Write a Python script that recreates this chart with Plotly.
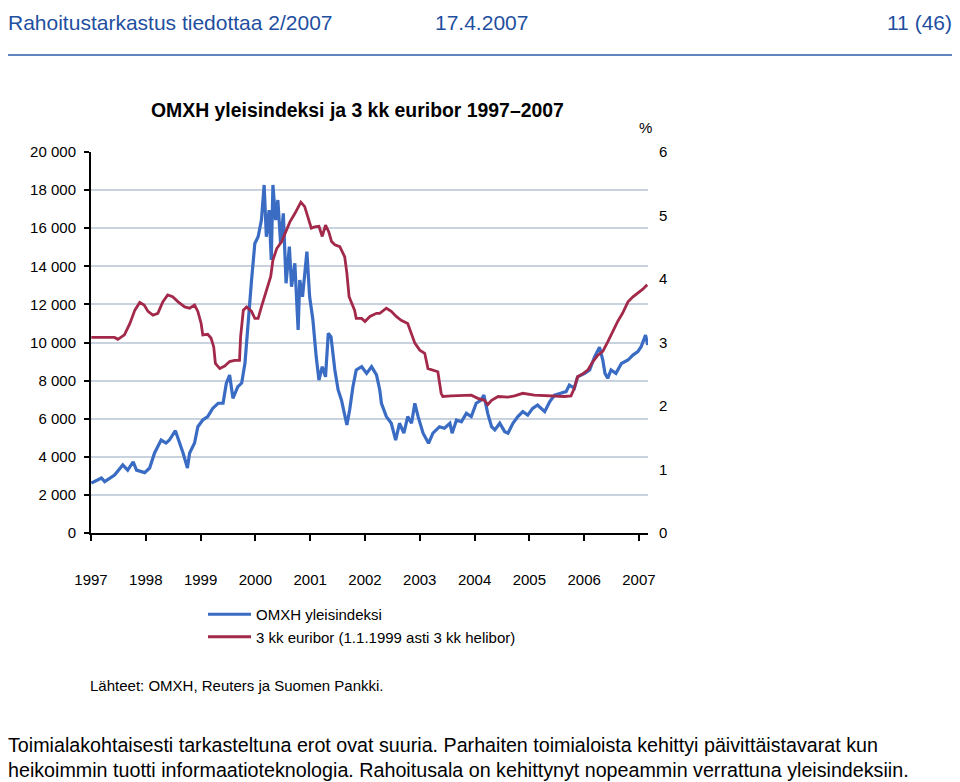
import plotly.graph_objects as go

# ---------------- data ----------------
omxh_t = [1997.005, 1997.19, 1997.25, 1997.43, 1997.58, 1997.67, 1997.77, 1997.83, 1997.98,
          1998.07, 1998.16, 1998.28, 1998.37, 1998.43, 1998.54, 1998.60, 1998.68, 1998.76,
          1998.80, 1998.89, 1998.95, 1999.04, 1999.13, 1999.22, 1999.32, 1999.41, 1999.47,
          1999.53, 1999.59, 1999.68, 1999.75, 1999.81, 1999.87, 1999.93, 1999.99, 2000.05,
          2000.11, 2000.16, 2000.20, 2000.25, 2000.29, 2000.32, 2000.37, 2000.41, 2000.46,
          2000.51, 2000.56, 2000.62, 2000.66, 2000.72, 2000.78, 2000.81, 2000.86, 2000.90,
          2000.94, 2000.99, 2001.05, 2001.11, 2001.16, 2001.22, 2001.28, 2001.33, 2001.38,
          2001.45, 2001.51, 2001.57, 2001.63, 2001.67, 2001.72, 2001.78, 2001.84, 2001.94,
          2002.03, 2002.12, 2002.21, 2002.27, 2002.30, 2002.39, 2002.48, 2002.56, 2002.63,
          2002.71, 2002.78, 2002.85, 2002.91, 2002.97, 2003.06, 2003.16, 2003.24, 2003.36,
          2003.45, 2003.55, 2003.59, 2003.67, 2003.76, 2003.85, 2003.94, 2004.03, 2004.12,
          2004.17, 2004.24, 2004.31, 2004.37, 2004.46, 2004.55, 2004.61, 2004.70, 2004.79,
          2004.88, 2004.97, 2005.06, 2005.15, 2005.28, 2005.37, 2005.46, 2005.58, 2005.67,
          2005.73, 2005.82, 2005.88, 2006.01, 2006.10, 2006.19, 2006.28, 2006.34, 2006.38,
          2006.43, 2006.49, 2006.58, 2006.68, 2006.80, 2006.89, 2006.98, 2007.04, 2007.12,
          2007.16]
omxh_v = [2620, 2890, 2700, 3040, 3570, 3300, 3740, 3300, 3170,
          3410, 4200, 4880, 4720, 4880, 5370, 4880, 4200, 3410,
          4200, 4720, 5580, 5930, 6110, 6540, 6810, 6810, 7860,
          8290, 7070, 7680, 7870, 8920, 11350, 13280, 15200, 15550,
          16430, 18270, 15550, 16950, 14330, 18270, 16430, 17480, 15200,
          16780, 13110, 15030, 12930, 14160, 10660, 13280, 12400, 13630,
          14770, 12400, 11180, 9250, 8030, 8730, 8200, 10480, 10300,
          8560, 7510, 6980, 6280, 5670, 6460, 7680, 8560, 8730,
          8380, 8730, 8300, 7510, 6810, 6110, 5760, 4880, 5760,
          5240, 6110, 5760, 6810, 6110, 5240, 4710, 5240, 5580,
          5500, 5760, 5240, 5930, 5840, 6280, 6110, 6810, 6980,
          7240, 6280, 5580, 5410, 5760, 5320, 5240, 5760, 6110,
          6370, 6190, 6540, 6720, 6370, 6890, 7240, 7330, 7420,
          7770, 7600, 8200, 8380, 8560, 9250, 9750, 9080, 8380,
          8120, 8560, 8380, 8900, 9080, 9340, 9520, 9780, 10390,
          9870]

euribor_t = [1997.005, 1997.43, 1997.49, 1997.61, 1997.71, 1997.80, 1997.89, 1997.97,
             1998.04, 1998.13, 1998.22, 1998.31, 1998.40, 1998.49, 1998.59, 1998.71,
             1998.80, 1998.89, 1998.95, 1999.01, 1999.04, 1999.13, 1999.19, 1999.24,
             1999.27, 1999.35, 1999.44, 1999.53, 1999.62, 1999.71, 1999.73, 1999.78,
             1999.84, 1999.93, 1999.99, 2000.05, 2000.11, 2000.17, 2000.23, 2000.28,
             2000.32, 2000.39, 2000.48, 2000.57, 2000.63, 2000.72, 2000.78, 2000.83,
             2000.90, 2000.96, 2001.02, 2001.08, 2001.16, 2001.22, 2001.28, 2001.34,
             2001.39, 2001.45, 2001.54, 2001.63, 2001.67, 2001.71, 2001.75, 2001.81,
             2001.84, 2001.94, 2002.00, 2002.09, 2002.21, 2002.27, 2002.39, 2002.48,
             2002.57, 2002.66, 2002.78, 2002.85, 2002.91, 2003.00, 2003.09, 2003.15,
             2003.24, 2003.33, 2003.39, 2003.42, 2003.58, 2003.76, 2003.94, 2004.06,
             2004.18, 2004.24, 2004.31, 2004.43, 2004.61, 2004.73, 2004.88, 2005.09,
             2005.28, 2005.46, 2005.64, 2005.76, 2005.82, 2005.88, 2005.98, 2006.07,
             2006.16, 2006.25, 2006.34, 2006.43, 2006.52, 2006.61, 2006.70, 2006.80,
             2006.89, 2006.98, 2007.07, 2007.15]
euribor_v = [3.08, 3.08, 3.05, 3.12, 3.30, 3.51, 3.63, 3.59,
             3.49, 3.43, 3.46, 3.64, 3.75, 3.72, 3.64, 3.56,
             3.54, 3.59, 3.49, 3.30, 3.12, 3.13, 3.07, 2.93,
             2.67, 2.59, 2.63, 2.70, 2.72, 2.72, 3.09, 3.51,
             3.56, 3.49, 3.38, 3.38, 3.56, 3.72, 3.88, 4.04,
             4.30, 4.48, 4.59, 4.77, 4.90, 5.03, 5.14, 5.21,
             5.14, 4.98, 4.80, 4.82, 4.83, 4.67, 4.85, 4.74,
             4.59, 4.54, 4.51, 4.35, 4.09, 3.72, 3.64, 3.51,
             3.38, 3.38, 3.33, 3.41, 3.46, 3.46, 3.54, 3.49,
             3.41, 3.35, 3.30, 3.12, 2.99, 2.88, 2.83, 2.59,
             2.57, 2.54, 2.20, 2.15, 2.16, 2.17, 2.17, 2.12,
             2.09, 2.02, 2.09, 2.15, 2.14, 2.16, 2.20, 2.17,
             2.16, 2.15, 2.15, 2.16, 2.28, 2.46, 2.51, 2.57,
             2.70, 2.80, 2.86, 3.01, 3.17, 3.33, 3.46, 3.64,
             3.72, 3.78, 3.84, 3.91]

year_ticks = [1997, 1998, 1999, 2000, 2001, 2002, 2003, 2004, 2005, 2006, 2007]
year_labels = [str(y) for y in year_ticks]
left_ticks = [0, 2000, 4000, 6000, 8000, 10000, 12000, 14000, 16000, 18000, 20000]
right_ticks = [0, 1, 2, 3, 4, 5, 6]

series_names = ["OMXH yleisindeksi", "3 kk euribor (1.1.1999 asti 3 kk helibor)"]
chart_title = "OMXH yleisindeksi ja 3 kk euribor 1997\u20132007"
source_text = "Lähteet: OMXH, Reuters ja Suomen Pankki."
header_left = "Rahoitustarkastus tiedottaa 2/2007"
header_mid = "17.4.2007"
header_right = "11 (46)"
body_lines = ["Toimialakohtaisesti tarkasteltuna erot ovat suuria. Parhaiten toimialoista kehittyi päivittäistavarat kun",
              "heikoimmin tuotti informaatioteknologia. Rahoitusala on kehittynyt nopeammin verrattuna yleisindeksiin."]

# ---------------- layout geometry ----------------
# the page body has an 8px default margin, so the figure sits at (8, 8)
OFF = 8
PAGE_W, PAGE_H = 960, 782
W, H = PAGE_W - OFF, PAGE_H - OFF
PL, PR, PT, PB = 91, 648, 152, 533   # plot area in page pixels


def px(x):
    return (x - PL) / (PR - PL)


def py(y):
    return (PB - y) / (PB - PT)


BLUE = "#3a6cc4"
RED = "#a3294b"
GRID = "#c9d3df"
HEAD = "#1f4f9f"
FONT = "Liberation Sans, Arial, sans-serif"

fig = go.Figure()
fig.add_trace(go.Scatter(x=omxh_t, y=omxh_v, name=series_names[0], mode="lines",
                         line=dict(color=BLUE, width=3.2), yaxis="y"))
fig.add_trace(go.Scatter(x=euribor_t, y=euribor_v, name=series_names[1], mode="lines",
                         line=dict(color=RED, width=2.8), yaxis="y2"))


def note(text, x, y, size, xanchor="left", color="#000000"):
    return dict(text=text, x=px(x), y=py(y), xref="paper", yref="paper", showarrow=False,
                xanchor=xanchor, yanchor="middle",
                font=dict(family=FONT, size=size, color=color))


ann = [
    note("<b>" + chart_title + "</b>", 357, 110, 19.4, "center"),
    note("%", 645, 128, 15, "center"),
    note(source_text, 88, 685, 15),
    note(header_left, 6, 23, 21, "left", HEAD),
    note(header_mid, 433, 23, 21, "left", HEAD),
    note(header_right, 954, 23, 21, "right", HEAD),
    note(body_lines[0], 6, 745, 19.7),
    note(body_lines[1], 6, 770, 19.7),
]

fig.update_layout(
    width=W, height=H,
    margin=dict(l=PL - OFF, r=W - (PR - OFF), t=PT - OFF, b=H - (PB - OFF), pad=0),
    paper_bgcolor="white", plot_bgcolor="white",
    separators=", ",
    font=dict(family=FONT, size=15, color="#000000"),
    showlegend=True,
    legend=dict(x=px(203), y=py(598), xanchor="left", yanchor="top", bgcolor="rgba(0,0,0,0)",
                font=dict(family=FONT, size=15), itemwidth=43, tracegroupgap=0),
    xaxis=dict(range=[1997, 2007.165], tickmode="array", tickvals=year_ticks, ticktext=year_labels,
               showgrid=False, zeroline=False, showline=True, linecolor="#000000", linewidth=2,
               ticks="outside", ticklen=6, tickwidth=2, tickcolor="#000000",
               ticklabelstandoff=26, tickfont=dict(family=FONT, size=15)),
    yaxis=dict(range=[0, 20000], tickmode="array", tickvals=left_ticks, tickformat=",d",
               showgrid=True, gridcolor=GRID, gridwidth=2, zeroline=False,
               showline=True, linecolor="#000000", linewidth=2,
               ticks="outside", ticklen=5, tickwidth=2, tickcolor="#000000",
               ticklabelstandoff=5, tickfont=dict(family=FONT, size=15)),
    yaxis2=dict(range=[0, 6], tickmode="array", tickvals=right_ticks, overlaying="y", side="right",
                showgrid=False, zeroline=False, showline=False, ticks="",
                ticklabelstandoff=10, tickfont=dict(family=FONT, size=15)),
    annotations=ann,
    shapes=[dict(type="line", xref="paper", yref="paper", x0=px(2), x1=px(956), y0=py(55), y1=py(55),
                 line=dict(color="#2b5ca8", width=1.5))],
)

fig.write_html("out.html")
